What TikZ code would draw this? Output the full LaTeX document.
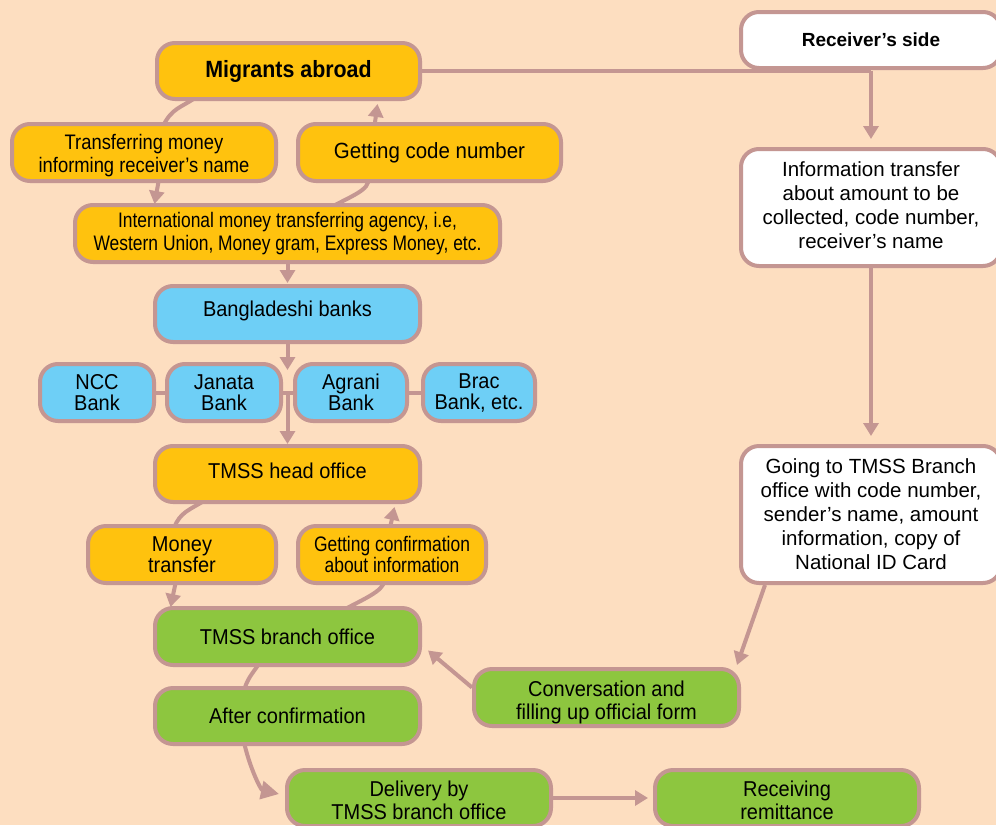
\documentclass[tikz,border=0pt]{standalone}
\usepackage{fontspec}
\setmainfont{Liberation Sans}
\newfontfamily\condA[FakeStretch=0.93]{Liberation Sans}
\newfontfamily\condB[FakeStretch=0.875]{Liberation Sans}
\newfontfamily\condC[FakeStretch=0.83]{Liberation Sans}
\newfontfamily\condM[FakeStretch=0.91]{Liberation Sans}
\newcommand{\shiftlines}[2]{\raisebox{#1}[\height][\depth]{\begin{tabular}{@{}c@{}}#2\end{tabular}}}
\newcommand{\shiftone}[2]{\raisebox{#1}[\height][\depth]{#2}}
\usetikzlibrary{arrows.meta,calc}
\definecolor{bgc}{RGB}{253,222,192}
\definecolor{bd}{RGB}{196,150,146}
\definecolor{yel}{RGB}{255,194,14}
\definecolor{blu}{RGB}{110,207,246}
\definecolor{grn}{RGB}{141,198,63}
\pgfdeclarelayer{back}
\pgfdeclarelayer{links}
\pgfsetlayers{back,links,main}
\tikzset{
  box/.style={draw=bd, line width=4pt, rounded corners=18pt, align=center, inner sep=0pt},
  ybox/.style={box, fill=yel, font=\condA\fontsize{21.5}{23}\selectfont},
  bbox/.style={box, fill=blu, font=\condA\fontsize{21.5}{21}\selectfont},
  gbox/.style={box, fill=grn, font=\condA\fontsize{21.5}{23}\selectfont},
  wbox/.style={box, fill=white, font=\fontsize{20.5}{24}\selectfont},
  conn/.style={draw=bd, line width=4pt},
  arr/.style={conn, -{Triangle[length=13pt,width=15pt]}},
  barr/.style={conn, -{Triangle[length=18pt,width=18pt]}},
}
\begin{document}
\begin{tikzpicture}[x=1pt,y=-1pt]
\useasboundingbox (0,0) rectangle (996,825);
\clip (0,0) rectangle (996,825);
\begin{pgfonlayer}{back}
\fill[bgc] (0,0) rectangle (996,825);
\end{pgfonlayer}

% left column
\node[ybox, minimum width=263pt, minimum height=56pt, font=\condM\bfseries\fontsize{23.5}{26}\selectfont] (mig) at (288.5,71) {Migrants abroad};
\node[ybox, minimum width=264pt, minimum height=57pt, font=\condB\fontsize{21}{23}\selectfont] (trans) at (144,152.5) {\shiftlines{-4pt}{Transferring money\\informing receiver’s name}};
\node[ybox, minimum width=263pt, minimum height=57pt, font=\condA\fontsize{22}{23}\selectfont] (code) at (429.5,152.5) {Getting code number};
\node[ybox, minimum width=425pt, minimum height=57pt, font=\condC\fontsize{21}{23}\selectfont] (intl) at (287.5,233.5) {International money transferring agency, i.e,\\Western Union, Money gram, Express Money, etc.};
\node[bbox, minimum width=265pt, minimum height=56pt] (bdb) at (287.5,314) {\shiftone{3pt}{Bangladeshi banks}};
\node[bbox, minimum width=114pt, minimum height=57pt] (ncc) at (97,392.5) {NCC\\Bank};
\node[bbox, minimum width=114pt, minimum height=57pt] (jan) at (224,392.5) {Janata\\Bank};
\node[bbox, minimum width=112pt, minimum height=57pt] (agr) at (351,392.5) {Agrani\\Bank};
\node[bbox, minimum width=112pt, minimum height=57pt] (brac) at (479,392.5) {Brac\\Bank, etc.};
\node[ybox, minimum width=265pt, minimum height=56pt] (ho) at (287.5,474) {\shiftone{3pt}{TMSS head office}};
\node[ybox, minimum width=188pt, minimum height=57pt, font=\condA\fontsize{21.5}{21}\selectfont] (mt) at (182,554.5) {Money\\transfer};
\node[ybox, minimum width=188pt, minimum height=57pt, font=\condC\fontsize{21}{21}\selectfont] (gc) at (392,554.5) {Getting confirmation\\about information};
\node[gbox, minimum width=265pt, minimum height=57pt] (br) at (287.5,636.5) {TMSS branch office};
\node[gbox, minimum width=265pt, minimum height=56pt] (ac) at (287.5,716) {After confirmation};
\node[gbox, minimum width=265pt, minimum height=57pt] (conv) at (606.5,697.5) {\shiftlines{-6pt}{Conversation and\\filling up official form}};
\node[gbox, minimum width=264pt, minimum height=56pt] (del) at (419,798) {\shiftlines{-5pt}{Delivery by\\TMSS branch office}};
\node[gbox, minimum width=264pt, minimum height=56pt] (rec) at (787,798) {\shiftlines{-5pt}{Receiving\\remittance}};

% right column
\node[wbox, minimum width=260pt, minimum height=56pt, font=\bfseries\fontsize{19}{20}\selectfont] (recv) at (871,40) {Receiver’s side};
\node[wbox, minimum width=260pt, minimum height=117pt] (info) at (871,207.5) {\shiftlines{0pt}{Information transfer\\about amount to be\\collected, code number,\\receiver’s name}};
\node[wbox, minimum width=260pt, minimum height=137pt] (go) at (871,514.5) {Going to TMSS Branch\\office with code number,\\sender’s name, amount\\information, copy of\\National ID Card};

\begin{pgfonlayer}{links}
% top loop
\draw[conn] ($(mig.south)+(-92,-4)$) .. controls ($(mig.south)+(-108,7)$) and ($(trans.north)+(28,-14)$) .. ($(trans.north)+(19,4)$);
\draw[arr] ($(trans.south)+(15,-4)$) -- ($(intl.north)+(-133,1)$);
\draw[conn] ($(intl.north)+(44,4)$) .. controls ($(intl.north)+(62,-6)$) and ($(code.south)+(-58,6)$) .. ($(code.south)+(-62,-4)$);
\draw[arr] ($(code.north)+(-55,4)$) -- ($(mig.south)+(89,3)$);
\draw[arr] (intl.south) -- ($(bdb.north)+(0,-1)$);
% receiver side link
\draw[conn] (mig.east) -- (info.north |- mig.east);
\draw[arr, shorten >=8pt] (info.north |- mig.east) -- (info.north);
\draw[arr, shorten >=8pt] (info.south) -- (go.north);
% banks
\draw[conn] (ncc.center) -- (brac.center);
\draw[arr] (bdb.south) -- ($(jan.north)!0.5!(agr.north)+(0,8)$);
\draw[arr] ($(jan.center)!0.5!(agr.center)$) -- ($(ho.north)+(0,0)$);
% head office loop
\draw[conn] ($(ho.south)+(-82,-4)$) .. controls ($(ho.south)+(-98,6)$) and ($(mt.north)+(-2,-12)$) .. ($(mt.north)+(-8,4)$);
\draw[arr] ($(mt.south)+(-6,-4)$) -- ($(br.north)+(-117,1)$);
\draw[conn] ($(br.north)+(56,4)$) .. controls ($(br.north)+(74,-6)$) and ($(gc.south)+(-8,6)$) .. ($(gc.south)+(-8,-4)$);
\draw[arr] ($(gc.north)+(-2,4)$) -- ($(ho.south)+(107,3)$);
% branch / confirmation
\draw[conn] ($(br.south)+(-28,-4)$) .. controls ($(br.south)+(-36,8)$) and ($(ac.north)+(-40,-8)$) .. ($(ac.north)+(-44,6)$);
\draw[barr] ($(ac.south)+(-44,-6)$) .. controls ($(ac.south)+(-38,22)$) and ($(del.west)+(-24,-8)$) .. ($(del.west)+(-6,-4)$);
\draw[arr] ($(go.south)+(-106,0)$) -- ($(conv.north east)+(-4,-2)$);
\draw[arr] ($(conv.west)+(0,-10)$) -- ($(br.east)+(6,14)$);
\draw[arr] (del.east) -- ($(rec.west)+(-5,0)$);
\end{pgfonlayer}
\end{tikzpicture}
\end{document}
